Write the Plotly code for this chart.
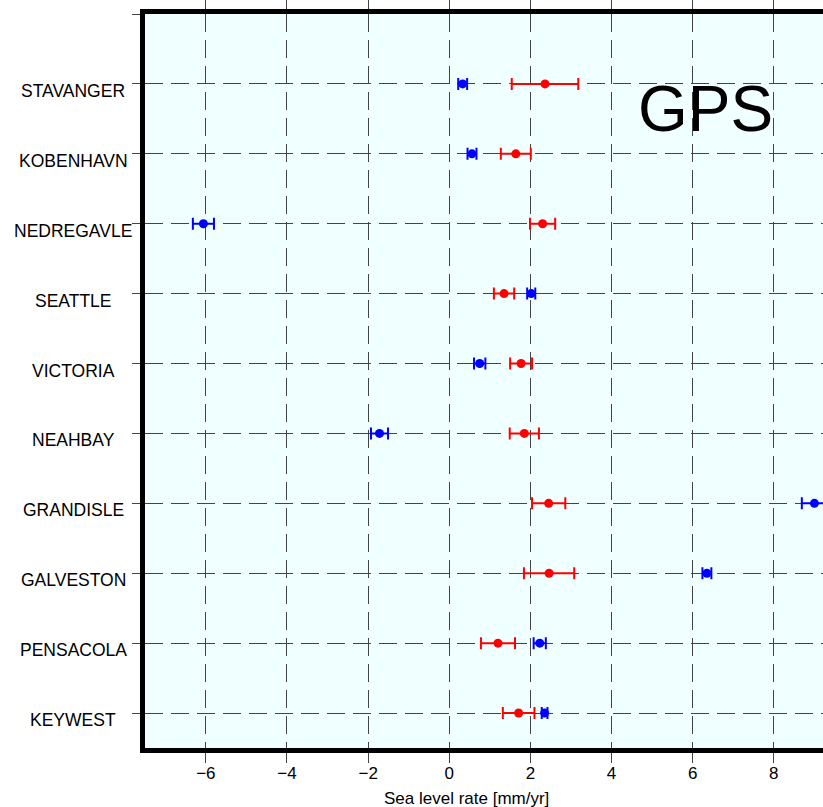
import plotly.graph_objects as go

# ── data ──────────────────────────────────────────────────────
stations = [
    "KEYWEST", "PENSACOLA", "GALVESTON", "GRANDISLE", "NEAHBAY",
    "VICTORIA", "SEATTLE", "NEDREGAVLE", "KOBENHAVN", "STAVANGER",
]
red_rate = [1.71, 1.20, 2.46, 2.45, 1.85, 1.77, 1.35, 2.30, 1.64, 2.36]
red_err = [0.39, 0.42, 0.62, 0.41, 0.36, 0.27, 0.25, 0.31, 0.37, 0.82]
blue_rate = [2.35, 2.23, 6.35, 9.00, -1.72, 0.75, 2.02, -6.06, 0.56, 0.33]
blue_err = [0.07, 0.15, 0.11, 0.31, 0.21, 0.14, 0.10, 0.26, 0.11, 0.11]
x_ticks = [-6, -4, -2, 0, 2, 4, 6, 8]

W, H = 823, 807
L, R, T, B = 145, 0, 14, 59
PW, PH = W - L - R, H - T - B

ypos = list(range(len(stations)))

fig = go.Figure()

fig.add_trace(go.Scatter(
    x=red_rate, y=ypos, mode="markers",
    marker=dict(color="#FF0000", size=9),
    error_x=dict(type="data", array=red_err, color="#FF0000",
                 thickness=2, width=6),
    showlegend=False,
))
fig.add_trace(go.Scatter(
    x=blue_rate, y=ypos, mode="markers",
    marker=dict(color="#0000FF", size=9),
    error_x=dict(type="data", array=blue_err, color="#0000FF",
                 thickness=2, width=6),
    showlegend=False,
))

# station labels, centred in the left margin like the original
annots = []
for i, s in enumerate(stations):
    annots.append(dict(
        x=(73 - L) / PW, xref="paper", y=i, yref="y",
        text=s, showarrow=False, xanchor="center", yanchor="middle",
        yshift=-7, font=dict(size=17.5, color="black"),
    ))
annots.append(dict(
    x=(466 - L) / PW, xref="paper", y=(T + PH - 798) / PH, yref="paper",
    text="Sea level rate [mm/yr]", showarrow=False,
    xanchor="center", yanchor="middle", font=dict(size=17, color="black"),
))
annots.append(dict(
    x=(705 - L) / PW, xref="paper", y=(T + PH - 109) / PH, yref="paper",
    text="GPS", showarrow=False, xanchor="center", yanchor="middle",
    font=dict(size=64, color="black"),
))

fig.update_layout(
    width=W, height=H,
    margin=dict(l=L, r=R, t=T, b=B, pad=0),
    paper_bgcolor="white",
    plot_bgcolor="#F0FFFF",
    font=dict(family="Liberation Sans, Arial", color="black"),
    annotations=annots,
)

fig.update_xaxes(
    range=[-7.5, -7.5 + PW / 40.57],
    tickvals=x_ticks,
    ticktext=["\u2212" + str(-v) if v < 0 else str(v) for v in x_ticks],
    tickfont=dict(size=17),
    ticklabelstandoff=-4,
    showgrid=True, gridcolor="#444444", griddash="18px,8px", gridwidth=1,
    zeroline=False,
    showline=True, linecolor="black", linewidth=5, mirror="ticks",
    ticks="outside", ticklen=10, tickcolor="#444444", tickwidth=1,
)
fig.update_yaxes(
    range=[-0.5, 10],
    tickvals=list(range(len(stations) + 1)),
    showticklabels=False,
    showgrid=True, gridcolor="#444444", griddash="18px,8px", gridwidth=1,
    zeroline=False,
    showline=True, linecolor="black", linewidth=5, mirror=False,
    ticks="outside", ticklen=8, tickcolor="#444444", tickwidth=1,
)

fig.write_html(
    "out.html",
    config={"displayModeBar": False},
    post_script="document.body.style.margin='0';",
)
